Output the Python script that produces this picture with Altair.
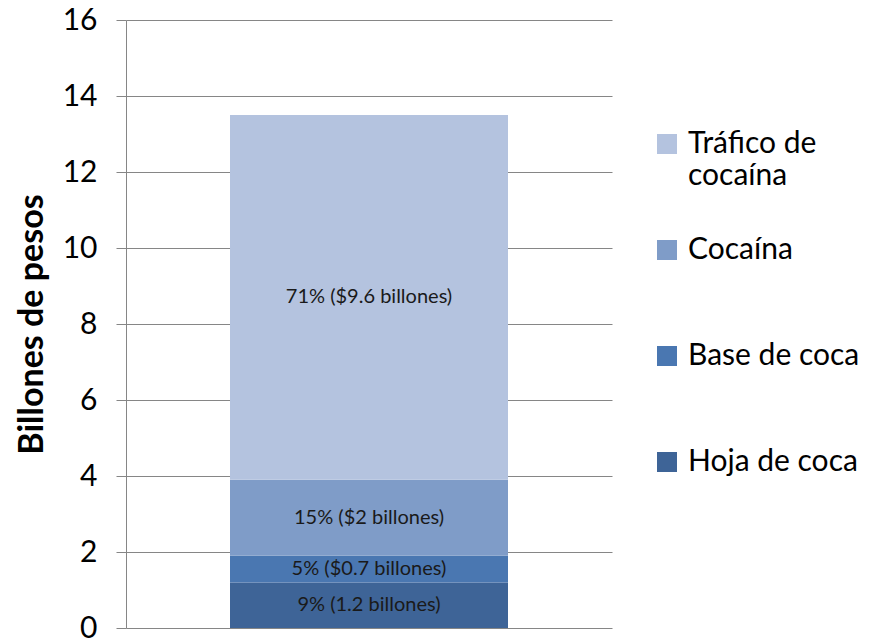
import altair as alt
import pandas as pd

categories = ["Hoja de coca", "Base de coca", "Cocaína", "Tráfico de cocaína"]
values = [1.2, 0.7, 2.0, 9.6]
labels = ["9% (1.2 billones)", "5% ($0.7 billones)", "15% ($2 billones)", "71% ($9.6 billones)"]
order = [0, 1, 2, 3]
legend_order = ["Tráfico de cocaína", "Cocaína", "Base de coca", "Hoja de coca"]
legend_colors = ["#B4C3DF", "#7F9CC8", "#4A77B1", "#3E6497"]
y_ticks = [0, 2, 4, 6, 8, 10, 12, 14, 16]

df = pd.DataFrame({"grupo": ["Total"] * 4, "cat": categories, "valor": values,
                   "etiqueta": labels, "ord": order})

FONT = "Lato"

base = alt.Chart(df).transform_stack(
    stack="valor", groupby=["grupo"], as_=["y0", "y1"], sort=[alt.SortField("ord")]
).transform_calculate(mid="(datum.y0 + datum.y1) / 2")

yscale = alt.Scale(domain=[0, 16], nice=False)

bars = base.mark_bar(size=278).encode(
    x=alt.X("grupo:N", axis=None),
    y=alt.Y("y1:Q", scale=yscale,
            axis=alt.Axis(values=y_ticks, title="Billones de pesos", grid=True,
                          gridColor="#868686", gridWidth=1, domainColor="#868686",
                          tickColor="#868686", tickSize=10, labelFontSize=30,
                          labelFont=FONT, labelColor="#000000", labelPadding=19,
                          titleFont=FONT, titleFontSize=34, titleFontWeight="bold",
                          titleColor="#000000", titlePadding=13)),
    y2="y0:Q",
    color=alt.Color("cat:N", scale=alt.Scale(domain=legend_order, range=legend_colors),
                    legend=alt.Legend(orient="none", legendX=526, legendY=109, title=None,
                                      symbolType="square", symbolSize=400,
                                      symbolStrokeWidth=0, labelFont=FONT,
                                      labelFontSize=30, labelColor="#000000",
                                      labelOffset=6, rowPadding=44, labelLimit=300,
                                      labelExpr="datum.label == 'Tráfico de cocaína' ? ['Tráfico de', 'cocaína'] : [datum.label, '']")),
)

text = base.mark_text(font=FONT, fontSize=20, color="#1a1a1a").encode(
    x=alt.X("grupo:N", axis=None),
    y=alt.Y("mid:Q", scale=yscale),
    text="etiqueta:N",
)

chart = alt.layer(bars, text).properties(
    width=486, height=608,
    autosize=alt.AutoSizeParams(type="none"),
    padding={"left": 118, "top": 12, "right": 265, "bottom": 12},
).configure_view(stroke=None)

chart.save("out.html", embed_options={"renderer": "svg", "actions": False})
